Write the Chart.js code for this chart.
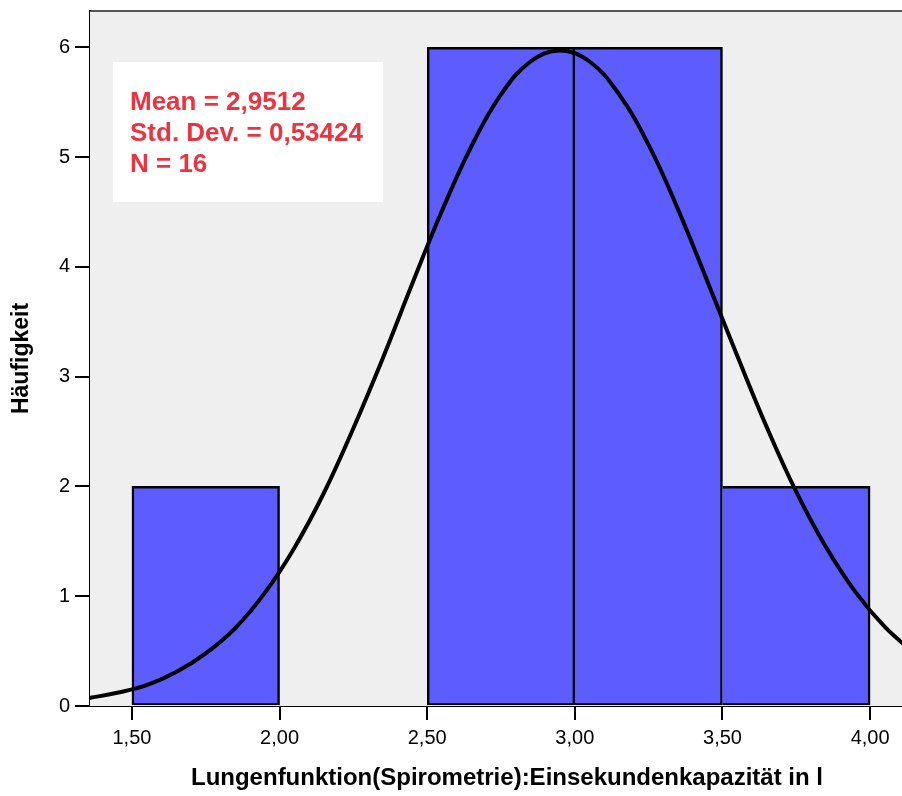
<!DOCTYPE html>
<html>
<head>
<meta charset="utf-8">
<script src="https://cdn.jsdelivr.net/npm/chart.js@4"></script>
<style>
    body { margin: 0; background: #ffffff; }
    #wrap { width: 902px; height: 796px; position: relative; }
</style>
</head>
<body>
<div id="wrap"><canvas id="myChart"></canvas></div>
<script>
// histogram bins (centre of each 0,5 l bin) and counts
var binCenters = [1.75, 2.25, 2.75, 3.25, 3.75];
var counts = [2, 0, 6, 6, 2];

// normal curve
var curveX = [1.35, 1.45, 1.55, 1.65, 1.75, 1.85, 1.95, 2.05, 2.15, 2.25, 2.35, 2.45, 2.55, 2.65, 2.75,
    2.85, 2.95, 3.05, 3.15, 3.25, 3.35, 3.45, 3.55, 3.65, 3.75, 3.85, 3.95, 4.05, 4.15];
var curveY = [0.07, 0.12, 0.19, 0.31, 0.48, 0.71, 1.03, 1.44, 1.94, 2.53, 3.17, 3.85, 4.51, 5.10, 5.57,
    5.87, 5.97, 5.87, 5.57, 5.11, 4.52, 3.86, 3.19, 2.54, 1.95, 1.45, 1.04, 0.72, 0.48];

var xTicks = [1.5, 2.0, 2.5, 3.0, 3.5, 4.0];
var yTicks = [0, 1, 2, 3, 4, 5, 6];

var statsLines = ['Mean = 2,9512', 'Std. Dev. = 0,53424', 'N = 16'];
var xTitle = 'Lungenfunktion(Spirometrie):Einsekundenkapazität in l';
var yTitle = 'Häufigkeit';

var colorBar = '#5c5cff';
var colorPlot = '#efefef';
var colorStats = '#ec3440';
var fontFamily = "'Liberation Sans', Arial, sans-serif";

var barData = binCenters.map(function (c, i) { return { x: c, y: counts[i] }; });
var curveData = curveX.map(function (x, i) { return { x: x, y: curveY[i] }; });

// plot background, top frame line, stats box, x title
var decor = {
    id: 'decor',
    beforeDatasetsDraw: function (chart) {
        var a = chart.chartArea, ctx = chart.ctx;
        ctx.save();
        ctx.fillStyle = colorPlot;
        ctx.fillRect(a.left, a.top, a.right - a.left, a.bottom - a.top);
        ctx.restore();
    },
    afterDraw: function (chart) {
        var a = chart.chartArea, ctx = chart.ctx;
        ctx.save();
        ctx.strokeStyle = '#222';
        ctx.lineWidth = 1.5;
        ctx.beginPath();
        ctx.moveTo(a.left, a.top);
        ctx.lineTo(a.right, a.top);
        ctx.stroke();

        // stats box
        ctx.fillStyle = '#ffffff';
        ctx.fillRect(a.left + 23, a.top + 51, 270, 140);
        ctx.fillStyle = colorStats;
        ctx.font = 'bold 26px ' + fontFamily;
        ctx.textAlign = 'left';
        ctx.textBaseline = 'alphabetic';
        statsLines.forEach(function (t, i) {
            ctx.fillText(t, a.left + 40, a.top + 99 + i * 31);
        });

        // x title
        ctx.fillStyle = '#000';
        ctx.font = 'bold 24px ' + fontFamily;
        ctx.textAlign = 'center';
        ctx.textBaseline = 'middle';
        ctx.fillText(xTitle, a.left + 417, 778);
        ctx.restore();
    }
};

// left border 0 where the left neighbour bar is at least as high (shared edge)
function barBorder(c) {
    var i = c.dataIndex;
    var left = (i > 0 && counts[i - 1] >= counts[i]) ? 0 : 2.5;
    return { top: 2.5, bottom: 2, left: left, right: 2.5 };
}

var ctx = document.getElementById('myChart');
var myChart = new Chart(ctx, {
    type: 'bar',
    data: {
        datasets: [{
            type: 'line',
            data: curveData,
            borderColor: '#000',
            borderWidth: 4,
            pointRadius: 0,
            tension: 0.4,
            fill: false,
            order: 0
        }, {
            type: 'bar',
            data: barData,
            backgroundColor: colorBar,
            borderColor: '#000',
            borderWidth: barBorder,
            borderSkipped: false,
            barPercentage: 1.0,
            categoryPercentage: 1.0,
            order: 1
        }]
    },
    options: {
        responsive: true,
        maintainAspectRatio: false,
        animation: false,
        layout: {
            padding: { top: 11, right: 0, left: 0, bottom: 0 }
        },
        plugins: {
            legend: { display: false },
            tooltip: { enabled: false }
        },
        scales: {
            x: {
                type: 'linear',
                min: 1.358,
                max: 4.108,
                offset: false,
                afterBuildTicks: function (scale) {
                    scale.ticks = xTicks.map(function (v) { return { value: v }; });
                },
                afterFit: function (scale) {
                    scale.height = 90;
                    scale.paddingLeft = 0;
                    scale.paddingRight = 0;
                },
                ticks: {
                    color: '#000',
                    padding: 6,
                    maxRotation: 0,
                    font: { family: fontFamily, size: 20 },
                    callback: function (v) { return v.toFixed(2).replace('.', ','); }
                },
                grid: {
                    offset: false,
                    drawOnChartArea: false,
                    drawTicks: true,
                    tickLength: 14,
                    color: '#000',
                    lineWidth: 2
                },
                border: { display: true, color: '#000', width: 2 }
            },
            y: {
                min: 0,
                max: 6.33,
                afterBuildTicks: function (scale) {
                    scale.ticks = yTicks.map(function (v) { return { value: v }; });
                },
                afterFit: function (scale) {
                    scale.width = 90;
                    scale.paddingTop = 0;
                    scale.paddingBottom = 0;
                },
                ticks: {
                    color: '#000',
                    padding: 5,
                    font: { family: fontFamily, size: 20 },
                    callback: function (v) { return String(v); }
                },
                grid: {
                    drawOnChartArea: false,
                    drawTicks: true,
                    tickLength: 15,
                    color: '#000',
                    lineWidth: 2
                },
                border: { display: true, color: '#000', width: 2 },
                title: {
                    display: true,
                    text: yTitle,
                    color: '#000',
                    font: { family: fontFamily, size: 23, weight: 'bold' },
                    padding: { top: 8, bottom: 0 }
                }
            }
        }
    },
    plugins: [decor]
});
</script>
</body>
</html>
